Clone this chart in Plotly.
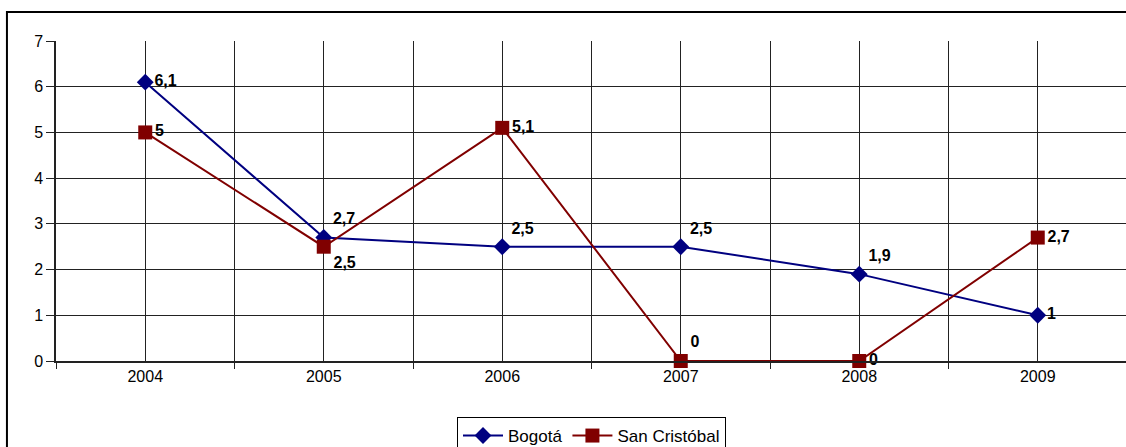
import plotly.graph_objects as go

# Datos
anios = ["2004", "2005", "2006", "2007", "2008", "2009"]
bogota = [6.1, 2.7, 2.5, 2.5, 1.9, 1.0]
san_cristobal = [5.0, 2.5, 5.1, 0.0, 0.0, 2.7]

pos_bogota = ["middle right", "top right", "top right", "top right", "top right", "middle right"]
pos_sc = ["middle right", "bottom right", "middle right", "top right", "middle right", "middle right"]

x = list(range(len(anios)))


def etiqueta(v):
    return f"{v:g}".replace(".", ",")


FONT = "Arial, Liberation Sans, sans-serif"

fig = go.Figure()
fig.add_trace(go.Scatter(
    x=x, y=bogota, name="Bogotá", mode="lines+markers+text",
    line=dict(color="#000080", width=2),
    marker=dict(symbol="diamond", size=13, color="#000080"),
    text=[etiqueta(v) for v in bogota], textposition=pos_bogota,
    textfont=dict(family=FONT, size=16, color="black", weight="bold"),
    cliponaxis=False,
))
fig.add_trace(go.Scatter(
    x=x, y=san_cristobal, name="San Cristóbal", mode="lines+markers+text",
    line=dict(color="#800000", width=2),
    marker=dict(symbol="square", size=14, color="#800000"),
    text=[etiqueta(v) for v in san_cristobal], textposition=pos_sc,
    textfont=dict(family=FONT, size=16, color="black", weight="bold"),
    cliponaxis=False,
))

# marco exterior del gráfico (recortado por la derecha y abajo)
fig.add_shape(type="rect", xref="paper", yref="paper",
              x0=-0.0458, x1=1.05, y0=-0.5, y1=1.0906,
              line=dict(color="black", width=2), layer="below")

fig.update_layout(
    width=1130, height=475,
    margin=dict(l=56, r=3, t=41, b=114),
    paper_bgcolor="white", plot_bgcolor="white",
    font=dict(family=FONT, size=16, color="black"),
    showlegend=True,
    legend=dict(orientation="h", x=0.5, xanchor="center", y=-0.175, yanchor="top",
                bordercolor="black", borderwidth=1, bgcolor="white",
                font=dict(size=17), itemwidth=40),
)
fig.update_xaxes(
    range=[-0.5, 5.5], tickvals=x, ticktext=anios, ticks="",
    showgrid=True, gridcolor="#222222", gridwidth=1,
    showline=True, linecolor="#222222", linewidth=1.5,
    minor=dict(tick0=-0.5, dtick=1, showgrid=True, gridcolor="#222222",
               gridwidth=1, ticks="outside", ticklen=6, tickcolor="#222222"),
    zeroline=False, tickfont=dict(size=16),
)
fig.update_yaxes(
    range=[0, 7], dtick=1, ticks="outside", ticklen=8, tickcolor="#222222",
    showgrid=True, gridcolor="#222222", gridwidth=1,
    showline=True, linecolor="#222222", linewidth=1.5,
    zeroline=False, tickfont=dict(size=16),
)

# sin margen de página: el gráfico empieza en la esquina y se recorta como el original
fig.write_html("out.html", config={"displayModeBar": False},
               post_script="document.body.style.margin='0';"
                           "document.body.style.overflow='hidden';")
